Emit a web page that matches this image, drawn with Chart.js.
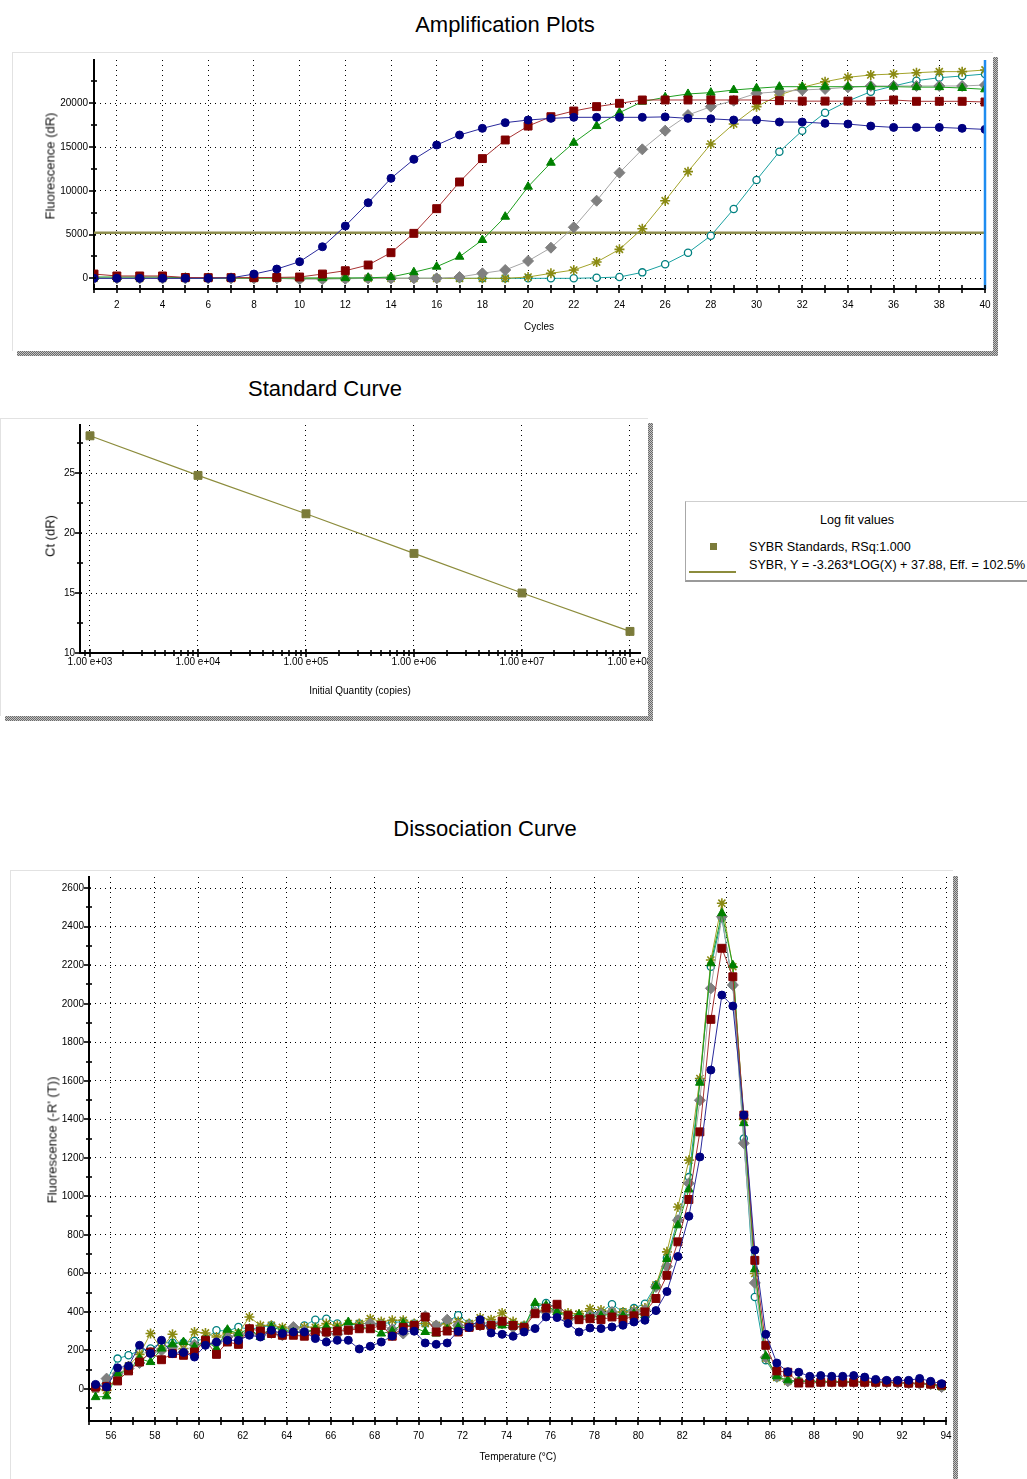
<!DOCTYPE html>
<html>
<head>
<meta charset="utf-8">
<script src="https://cdn.jsdelivr.net/npm/chart.js@4.4.1/dist/chart.umd.min.js"></script>
<style>
  html, body { margin: 0; padding: 0; background: #fff; }
  body { width: 1027px; height: 1479px; position: relative; overflow: hidden;
         font-family: 'Liberation Sans', Arial, sans-serif; color: #000; }
  .title { position: absolute; font-size: 22px; transform: translate(-50%, -50%); white-space: nowrap; }
  .panel { position: absolute; background: #fff; box-sizing: border-box;
           border-top: 1px solid #e2e2e2; border-left: 1px solid #e2e2e2; }
  .shadow { position: absolute;
            background: repeating-conic-gradient(#6a6a6a 0 25%, #c4c4c4 0 50%) 0 0 / 2px 2px; }
  .box { position: absolute; overflow: hidden; }
  .box canvas { position: absolute; left: 0; top: -20px; }
  .lbl { position: absolute; white-space: nowrap; transform: translate(-50%, -50%); font-size: 10px; }
  .vlbl { position: absolute; white-space: nowrap; transform: translate(-50%, -50%) rotate(-90deg); font-size: 13px; color: #111; }
  .legend { position: absolute; background: #fff; box-sizing: border-box;
            border-top: 1px solid #cfcfcf; border-left: 1px solid #a8a8a8; border-bottom: 2px solid #9a9a9a; }
  .legend div { position: absolute; white-space: nowrap; font-size: 12.6px; }
</style>
</head>
<body>

<!-- Amplification plots -->
<div class="title" style="left:505px;top:25px;">Amplification Plots</div>
<div class="panel" style="left:12px;top:52px;width:981px;height:299px;"></div>
<div class="shadow" style="left:993px;top:57px;width:5px;height:299px;"></div>
<div class="shadow" style="left:17px;top:351px;width:981px;height:5px;"></div>
<div class="box" style="left:12px;top:52px;width:981px;height:298px;"><canvas id="amp" width="1021" height="318"></canvas></div>
<div class="vlbl" style="left:50px;top:166px;">Fluorescence (dR)</div>
<div class="lbl" style="left:539px;top:326px;">Cycles</div>

<!-- Standard curve -->
<div class="title" style="left:325px;top:389px;">Standard Curve</div>
<div class="panel" style="left:0px;top:418px;width:648px;height:298px;"></div>
<div class="shadow" style="left:648px;top:423px;width:5px;height:298px;"></div>
<div class="shadow" style="left:5px;top:716px;width:648px;height:5px;"></div>
<div class="box" style="left:0px;top:418px;width:648px;height:298px;"><canvas id="std" width="700" height="318"></canvas></div>
<div class="vlbl" style="left:50px;top:536px;">Ct (dR)</div>
<div class="lbl" style="left:360px;top:690px;">Initial Quantity (copies)</div>

<div class="legend" style="left:685px;top:501px;width:360px;height:81px;">
  <div style="left:171px;top:18px;transform:translate(-50%,-50%);">Log fit values</div>
  <div style="left:24px;top:41px;width:7px;height:7px;background:#7b7b3a;"></div>
  <div style="left:63px;top:45px;transform:translateY(-50%);">SYBR Standards, RSq:1.000</div>
  <div style="left:3px;top:69px;width:47px;height:1.5px;background:#8c8c3c;"></div>
  <div style="left:63px;top:63px;transform:translateY(-50%);">SYBR, Y = -3.263*LOG(X) + 37.88, Eff. = 102.5%</div>
</div>

<!-- Dissociation curve -->
<div class="title" style="left:485px;top:829px;">Dissociation Curve</div>
<div class="panel" style="left:10px;top:870px;width:943px;height:620px;"></div>
<div class="shadow" style="left:953px;top:876px;width:5px;height:610px;"></div>
<div class="box" style="left:10px;top:870px;width:943px;height:609px;"><canvas id="melt" width="983" height="629"></canvas></div>
<div class="vlbl" style="left:52px;top:1140px;">Fluorescence (-R' (T))</div>
<div class="lbl" style="left:518px;top:1456px;">Temperature (°C)</div>

<script>
// ---------- Amplification data (dR per cycle) ----------
const cycles = [1,2,3,4,5,6,7,8,9,10,11,12,13,14,15,16,17,18,19,20,
                21,22,23,24,25,26,27,28,29,30,31,32,33,34,35,36,37,38,39,40];
const ampNavy  = [0,0,0,0,0,0,50,490,1060,1900,3610,5980,8640,11430,13600,15230,16380,17140,17790,18090,
                  18280,18400,18400,18400,18400,18450,18280,18230,18090,18090,17860,17860,17710,17630,17400,17250,17250,17250,17140,17020];
const ampRed   = [490,270,270,270,100,80,80,80,100,150,490,870,1520,2930,5140,7960,11010,13680,15810,17400,
                  18470,19120,19620,20000,20380,20380,20380,20380,20380,20380,20300,20250,20250,20250,20250,20380,20230,20230,20230,20150];
const ampGreen = [150,150,150,150,60,30,30,30,30,30,30,30,60,150,700,1330,2470,4380,7040,10470,
                  13210,15500,17400,18930,20190,20690,21070,21220,21520,21720,21900,21900,21900,21900,21900,21900,21850,21850,21750,21600];
const ampGray  = [0,0,0,0,0,0,0,0,0,-100,-100,-50,0,0,0,0,150,570,950,1980,
                  3500,5830,8870,12070,14740,16870,18660,19620,20300,21140,21330,21520,21640,21830,21980,21980,21980,21980,21980,22090];
const ampOlive = [0,0,0,0,0,0,0,0,0,0,0,0,0,0,0,0,0,0,0,150,
                  570,950,1860,3310,5670,8870,12190,15350,17640,19620,20950,21830,22470,22970,23240,23350,23500,23620,23620,23810];
const ampTeal  = [0,0,0,0,0,0,0,0,0,0,0,0,0,0,0,0,0,0,0,0,
                  0,0,60,150,680,1600,2930,4870,7920,11240,14470,16870,18930,20260,21330,21980,22590,22930,23120,23350];
const threshold = 5200;
const runEndCycle = 40;
const ampYMajor = [0, 5000, 10000, 15000, 20000];
const ampYMinor = [2500, 7500, 12500, 17500, 22500];

// ---------- Standard curve ----------
const stdQuantity = [1e3, 1e4, 1e5, 1e6, 1e7, 1e8];
const stdCt       = [28.1, 24.8, 21.6, 18.3, 15.0, 11.8];
const stdXLabels  = ['1.00 e+03', '1.00 e+04', '1.00 e+05', '1.00 e+06', '1.00 e+07', '1.00 e+08'];
const stdYMajor   = [10, 15, 20, 25];
const stdYMinor   = [12.5, 17.5, 22.5, 27.5];

// ---------- Dissociation (melt) data ----------
const meltTemps = [55.3,55.8,56.3,56.8,57.3,57.8,58.3,58.8,59.3,59.8,
                   60.3,60.8,61.3,61.8,62.3,62.8,63.3,63.8,64.3,64.8,
                   65.3,65.8,66.3,66.8,67.3,67.8,68.3,68.8,69.3,69.8,
                   70.3,70.8,71.3,71.8,72.3,72.8,73.3,73.8,74.3,74.8,
                   75.3,75.8,76.3,76.8,77.3,77.8,78.3,78.8,79.3,79.8,
                   80.3,80.8,81.3,81.8,82.3,82.8,83.3,83.8,84.3,84.8,
                   85.3,85.8,86.3,86.8,87.3,87.8,88.3,88.8,89.3,89.8,
                   90.3,90.8,91.3,91.8,92.3,92.8,93.3,93.8];
const meltNavy  = [24,10,110,120,227,184,253,184,190,166, 227,244,253,253,279,270,305,288,296,296,
                   262,244,253,253,208,222,244,275,300,300, 239,232,239,300,320,360,291,284,274,296,
                   314,374,371,340,296,317,314,322,331,348, 357,407,506,688,897,1205,1656,2045,1988,1422,
                   721,284,135,90,87,66,70,66,66,70, 62,50,45,45,45,55,40,28];
const meltRed   = [10,14,42,94,140,192,152,184,175,192, 253,180,244,232,313,301,288,279,279,274,
                   296,296,301,305,313,313,330,274,320,330, 374,296,301,296,320,330,330,352,330,320,
                   391,420,440,383,360,365,360,374,360,380, 400,470,590,764,984,1335,1919,2288,2140,1422,
                   668,227,94,87,31,31,35,35,35,35, 35,35,35,35,30,30,25,20];
const meltGreen = [-42,-38,80,97,158,140,210,232,244,218, 253,210,308,288,313,270,322,305,296,291,
                   313,322,313,348,322,313,288,300,340,320, 296,288,310,320,320,330,325,330,330,320,
                   447,435,400,380,386,370,380,390,380,391, 383,533,675,850,1036,1590,2210,2470,2200,1380,
                   622,170,66,45,40,40,40,38,38,36, 36,35,35,33,30,28,25,12];
const meltGray  = [0,54,80,106,135,190,200,220,192,230, 232,240,270,279,290,279,291,279,322,300,
                   300,291,284,310,320,340,330,310,288,330, 378,330,360,330,330,330,330,340,320,320,
                   400,400,410,360,370,380,390,400,380,400, 410,530,637,876,1068,1499,2080,2452,2097,1276,
                   551,165,66,40,40,40,38,38,36,36, 36,35,35,33,30,28,25,10];
const meltOlive = [0,-7,70,120,180,288,210,284,210,296, 291,270,290,290,374,330,331,320,310,322,
                   320,340,330,340,340,365,350,357,357,340, 340,330,340,350,340,370,360,395,350,330,
                   400,420,400,395,390,417,410,400,400,410, 420,540,712,945,1188,1612,2227,2522,2192,1400,
                   600,160,60,40,40,40,38,38,36,36, 36,35,35,33,30,28,25,12];
const meltTeal  = [10,40,158,175,200,210,240,240,240,250, 260,305,300,322,310,320,331,310,300,330,
                   360,365,340,330,340,340,340,345,350,340, 340,330,350,383,340,340,345,350,340,330,
                   420,447,420,370,360,390,400,440,400,420, 443,540,680,880,1100,1600,2192,2444,2097,1300,
                   478,150,60,40,40,40,38,38,36,36, 36,35,35,33,30,28,25,12];
const meltXMajor = [56,58,60,62,64,66,68,70,72,74,76,78,80,82,84,86,88,90,92,94];
const meltYMajor = [0,200,400,600,800,1000,1200,1400,1600,1800,2000,2200,2400,2600];

// ---------- shared styling ----------
const TICK_FONT = { family: "'Liberation Sans Narrow','Arial Narrow','Liberation Sans',Arial,sans-serif", size: 10 };

const STYLES = {
  navy:  { line: '#2a2a9c', shape: 'circle',   r: 4,   fill: '#000080', edge: '#000080', bw: 1 },
  red:   { line: '#a83232', shape: 'rect',     r: 5.6, fill: '#800000', edge: '#800000', bw: 1 },
  green: { line: '#1f9f1f', shape: 'triangle', r: 5,   fill: '#008000', edge: '#008000', bw: 1 },
  gray:  { line: '#a6a6a6', shape: 'rectRot',  r: 5.5, fill: '#808080', edge: '#808080', bw: 1 },
  olive: { line: '#a3a32a', shape: 'star',     r: 5,   fill: '#808000', edge: '#8a8a12', bw: 1.6 },
  teal:  { line: '#18a0a0', shape: 'circle',   r: 3.6, fill: '#ffffff', edge: '#008080', bw: 1.3 }
};

function series(xs, ys, st) {
  return {
    data: xs.map((x, i) => ({ x: x, y: ys[i] })),
    borderColor: st.line, borderWidth: 1, tension: 0, fill: false,
    pointStyle: st.shape, pointRadius: st.r, pointBackgroundColor: st.fill,
    pointBorderColor: st.edge, pointBorderWidth: st.bw
  };
}

function axis(o) {
  return {
    type: o.type || 'linear',
    min: o.min, max: o.max, bounds: 'data',
    afterBuildTicks: s => { s.ticks = o.values.map(v => ({ value: v })); },
    afterFit: s => { if (o.horizontal) s.height = o.fit; else s.width = o.fit; },
    grid: {
      drawTicks: false, lineWidth: 1,
      color: c => (c.tick && o.grid(c.tick.value)) ? '#000' : 'rgba(0,0,0,0)'
    },
    border: { display: true, color: '#000', width: 2, dash: [1, 4] },
    ticks: {
      autoSkip: false, maxRotation: 0, minRotation: 0, padding: o.pad,
      color: '#000', font: TICK_FONT,
      callback: v => o.label(v)
    }
  };
}

// crossing tick marks on both axes, lengths chosen per value
function tickMarks(spec) {
  return {
    id: 'tickMarks',
    afterDraw(chart) {
      const ctx = chart.ctx, xs = chart.scales.x, ys = chart.scales.y;
      ctx.save();
      ctx.strokeStyle = '#000';
      ctx.lineWidth = 1.6;
      xs.ticks.forEach(t => {
        const p = Math.round(xs.getPixelForValue(t.value));
        const [up, down] = spec.x(t.value);
        ctx.beginPath(); ctx.moveTo(p, ys.bottom - up); ctx.lineTo(p, ys.bottom + down); ctx.stroke();
      });
      ys.ticks.forEach(t => {
        const p = Math.round(ys.getPixelForValue(t.value));
        const [left, right] = spec.y(t.value);
        ctx.beginPath(); ctx.moveTo(xs.left - left, p); ctx.lineTo(xs.left + right, p); ctx.stroke();
      });
      ctx.restore();
    }
  };
}

// canvases are 40px wider and 20px taller (shifted up) than their clipping box
const baseOptions = (padding) => ({
  responsive: false, animation: false, events: [],
  layout: { padding: padding },
  plugins: { legend: { display: false }, tooltip: { enabled: false } }
});

// ---------- Amplification chart ----------
const runMarker = {
  id: 'runMarker',
  afterDatasetsDraw(chart) {
    const ctx = chart.ctx, xs = chart.scales.x, ys = chart.scales.y;
    const p = xs.getPixelForValue(runEndCycle);
    ctx.save();
    ctx.strokeStyle = '#1e8cf0';
    ctx.lineWidth = 2.5;
    ctx.beginPath(); ctx.moveTo(p, ys.top); ctx.lineTo(p, ys.bottom); ctx.stroke();
    ctx.restore();
  }
};

const ampYTicks = ampYMajor.concat(ampYMinor).sort((a, b) => a - b);
new Chart(document.getElementById('amp'), {
  type: 'line',
  data: {
    datasets: [
      series(cycles, ampNavy, STYLES.navy),
      series(cycles, ampRed, STYLES.red),
      series(cycles, ampGreen, STYLES.green),
      series(cycles, ampGray, STYLES.gray),
      series(cycles, ampOlive, STYLES.olive),
      series(cycles, ampTeal, STYLES.teal),
      { data: [{ x: cycles[0], y: threshold }, { x: cycles[cycles.length - 1], y: threshold }],
        borderColor: '#8e8e4e', borderWidth: 2.6, pointRadius: 0, tension: 0, fill: false }
    ]
  },
  options: Object.assign(baseOptions({ left: 0, right: 48, top: 28, bottom: 0 }), {
    scales: {
      x: axis({ horizontal: true, min: 1, max: 40, fit: 61, pad: 10, values: cycles,
                grid: v => v % 2 === 0, label: v => (v % 2 === 0 ? String(v) : '') }),
      y: axis({ min: -1220, max: 24950, fit: 82, pad: 6, values: ampYTicks,
                grid: v => ampYMajor.includes(v), label: v => (ampYMajor.includes(v) ? String(v) : '') })
    }
  }),
  plugins: [runMarker, tickMarks({
    x: v => [4, 4],
    y: v => (ampYMajor.includes(v) ? [5, 2] : [3, 3])
  })]
});

// ---------- Standard curve chart ----------
const stdXTicks = [900];
stdQuantity.forEach((q, i) => {
  stdXTicks.push(q);
  if (i < stdQuantity.length - 1) for (let m = 2; m <= 9; m++) stdXTicks.push(q * m);
});
new Chart(document.getElementById('std'), {
  type: 'line',
  data: {
    datasets: [{
      data: stdQuantity.map((q, i) => ({ x: q, y: stdCt[i] })),
      showLine: true, borderColor: '#8c8c3c', borderWidth: 1.2, tension: 0, fill: false,
      pointStyle: 'rect', pointRadius: 5.6, pointBackgroundColor: '#7b7b3a', pointBorderColor: '#7b7b3a', pointBorderWidth: 1
    }]
  },
  options: Object.assign(baseOptions({ left: 0, right: 60, top: 27, bottom: 0 }), {
    scales: {
      x: axis({ type: 'logarithmic', horizontal: true, min: 808, max: 1.238e8, fit: 63, pad: 3, values: stdXTicks,
                grid: v => stdQuantity.includes(v),
                label: v => { const i = stdQuantity.indexOf(v); return i >= 0 ? stdXLabels[i] : ''; } }),
      y: axis({ min: 10, max: 29, fit: 80, pad: 5, values: stdYMajor.concat(stdYMinor).sort((a, b) => a - b),
                grid: v => v > 10 && stdYMajor.includes(v),
                label: v => (stdYMajor.includes(v) ? String(v) : '') })
    }
  }),
  plugins: [tickMarks({
    x: v => (stdQuantity.includes(v) ? [4, 4] : [3, 3]),
    y: v => (stdYMajor.includes(v) ? [5, 2] : [3, 3])
  })]
});

// ---------- Dissociation chart ----------
const meltXTicks = [];
for (let t = 55; t <= 94; t++) meltXTicks.push(t);
const meltYTicks = [];
for (let v = -100; v <= 2600; v += 100) meltYTicks.push(v);
new Chart(document.getElementById('melt'), {
  type: 'line',
  data: {
    datasets: [
      series(meltTemps, meltNavy, STYLES.navy),
      series(meltTemps, meltRed, STYLES.red),
      series(meltTemps, meltGreen, STYLES.green),
      series(meltTemps, meltGray, STYLES.gray),
      series(meltTemps, meltOlive, STYLES.olive),
      series(meltTemps, meltTeal, STYLES.teal)
    ]
  },
  options: Object.assign(baseOptions({ left: 0, right: 47, top: 27, bottom: 0 }), {
    scales: {
      x: axis({ horizontal: true, min: 55, max: 94, fit: 58, pad: 9, values: meltXTicks,
                grid: v => meltXMajor.includes(v), label: v => (meltXMajor.includes(v) ? String(v) : '') }),
      y: axis({ min: -166, max: 2658, fit: 79, pad: 5, values: meltYTicks,
                grid: v => meltYMajor.includes(v), label: v => (meltYMajor.includes(v) ? String(v) : '') })
    }
  }),
  plugins: [tickMarks({
    x: v => [4, 4],
    y: v => (meltYMajor.includes(v) ? [5, 2] : [3, 3])
  })]
});
</script>
</body>
</html>
